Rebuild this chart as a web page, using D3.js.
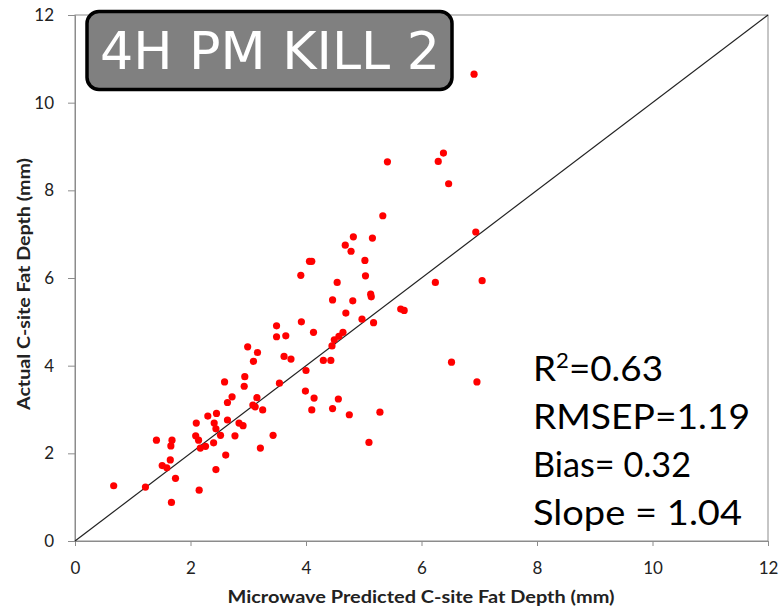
<!DOCTYPE html>
<html>
<head>
  <meta charset="utf-8">
  <script src="https://cdn.jsdelivr.net/npm/d3@7/dist/d3.min.js"></script>
  <style>
    body { margin: 0; background: #fff; }
    svg { display: block; font-family: Lato, "Open Sans", sans-serif; }
  </style>
</head>
<body>
  <svg id="chart" width="782" height="607"></svg>
  <script>
    // predicted (x) vs actual (y) fat depth, mm
    var predicted = [
      3.49,3.65,4.13,2.99,3.16,3.09,3.62,3.74,4.00,2.94,
      2.59,2.93,3.54,3.99,4.14,4.10,2.72,2.64,3.15,3.08,
      3.12,3.25,2.45,2.30,2.10,2.41,2.44,2.64,2.84,2.91,
      2.52,2.77,3.43,2.09,2.14,1.41,1.68,1.66,2.40,2.26,
      2.17,3.21,2.61,1.65,1.51,1.59,1.74,2.44,0.67,1.22,
      2.15,1.67,
      4.06,4.10,3.91,3.92,3.49,
      5.41,6.38,6.29,6.47,5.33,6.94,4.82,5.15,4.68,4.78,
      5.02,5.03,4.54,6.24,7.05,5.12,5.13,4.46,4.81,4.69,
      5.64,5.70,4.97,5.17,4.64,4.57,4.49,4.45,4.30,4.43,
      4.56,4.46,4.75,5.28,5.09,6.52,6.96,6.91
    ];
    var actual = [
      4.66,4.68,4.76,4.43,4.30,4.10,4.21,4.15,3.89,3.75,
      3.63,3.53,3.60,3.42,3.26,2.99,3.29,3.16,3.27,3.10,
      3.06,2.99,2.91,2.85,2.69,2.69,2.56,2.76,2.69,2.63,
      2.41,2.40,2.41,2.40,2.30,2.30,2.30,2.17,2.24,2.16,
      2.12,2.12,1.96,1.85,1.72,1.67,1.43,1.63,1.26,1.23,
      1.16,0.88,
      6.38,6.38,6.06,5.00,4.91,
      8.65,8.85,8.66,8.15,7.42,7.05,6.94,6.91,6.75,6.61,
      6.40,6.05,5.90,5.90,5.94,5.63,5.57,5.50,5.48,5.20,
      5.29,5.26,5.06,4.98,4.76,4.67,4.59,4.45,4.12,4.12,
      3.24,3.02,2.88,2.94,2.25,4.08,3.63,10.65
    ];
    var tickValues = [0, 2, 4, 6, 8, 10, 12];
    var identityLine = [0, 12];
    var statLines = ["RMSEP=1.19", "Bias= 0.32", "Slope = 1.04"];
    var r2Value = "0.63";
    var chartTitle = "4H PM KILL 2";

    var svg = d3.select("#chart");

    var x = d3.scaleLinear().domain([0, 12]).range([75, 768]);
    var y = d3.scaleLinear().domain([0, 12]).range([541, 15]);

    // plot frame
    svg.append("rect")
      .attr("x", x(0)).attr("y", y(12))
      .attr("width", x(12) - x(0)).attr("height", y(0) - y(12))
      .attr("fill", "none").attr("stroke", "#8c8c8c").attr("stroke-width", 1);

    // axes
    var xAxis = svg.append("g")
      .attr("transform", "translate(0," + y(0) + ")")
      .call(d3.axisBottom(x).tickValues(tickValues).tickSize(5).tickPadding(16));
    var yAxis = svg.append("g")
      .attr("transform", "translate(" + x(0) + ",0)")
      .call(d3.axisLeft(y).tickValues(tickValues).tickSize(7).tickPadding(14));
    [xAxis, yAxis].forEach(function(g) {
      g.select(".domain").attr("stroke", "#8c8c8c");
      g.selectAll(".tick line").attr("stroke", "#8c8c8c");
      g.selectAll(".tick text")
        .attr("fill", "#222")
        .style("font-family", "Lato, sans-serif")
        .style("font-size", "17px");
    });

    // y = x reference line
    svg.append("line")
      .attr("x1", x(identityLine[0])).attr("y1", y(identityLine[0]))
      .attr("x2", x(identityLine[1])).attr("y2", y(identityLine[1]))
      .attr("stroke", "#222").attr("stroke-width", 1.2);

    // points
    svg.selectAll("circle.pt")
      .data(predicted.map(function(d, i) { return [d, actual[i]]; }))
      .enter()
      .append("circle")
      .attr("class", "pt")
      .attr("cx", function(d) { return x(d[0]); })
      .attr("cy", function(d) { return y(d[1]); })
      .attr("r", 3.6)
      .attr("fill", "#ff0000");

    // axis titles
    svg.append("text")
      .attr("x", 421).attr("y", 603)
      .attr("text-anchor", "middle")
      .attr("textLength", 387).attr("lengthAdjust", "spacingAndGlyphs")
      .style("font-weight", "bold").style("font-size", "16.5px")
      .attr("fill", "#222")
      .text("Microwave Predicted C-site Fat Depth (mm)");
    svg.append("text")
      .attr("transform", "translate(30,284) rotate(-90)")
      .attr("text-anchor", "middle")
      .attr("textLength", 252).attr("lengthAdjust", "spacingAndGlyphs")
      .style("font-weight", "bold").style("font-size", "16.5px")
      .attr("fill", "#222")
      .text("Actual C-site Fat Depth (mm)");

    // statistics
    var r2 = svg.append("text")
      .attr("x", 533).attr("y", 381)
      .attr("textLength", 130).attr("lengthAdjust", "spacingAndGlyphs")
      .style("font-size", "35px").attr("fill", "#000");
    r2.append("tspan").text("R");
    r2.append("tspan").attr("dy", -13).style("font-size", "21px").text("2");
    r2.append("tspan").attr("dy", 13).text("=" + r2Value);
    var statWidths = [217, 158, 209];
    svg.selectAll("text.stat")
      .data(statLines)
      .enter()
      .append("text")
      .attr("class", "stat")
      .attr("x", 533)
      .attr("y", function(d, i) { return 429 + i * 48; })
      .attr("textLength", function(d, i) { return statWidths[i]; })
      .attr("lengthAdjust", "spacingAndGlyphs")
      .style("font-size", "35px").attr("fill", "#000")
      .text(function(d) { return d; });

    // title badge
    svg.append("rect")
      .attr("x", 87).attr("y", 11.5)
      .attr("width", 365).attr("height", 78)
      .attr("rx", 12).attr("ry", 12)
      .attr("fill", "#808080").attr("stroke", "#000").attr("stroke-width", 3.5);
    svg.append("text")
      .attr("x", 100).attr("y", 69)
      .attr("textLength", 340).attr("lengthAdjust", "spacingAndGlyphs")
      .style("font-family", "\"DejaVu Sans\", sans-serif")
      .style("font-size", "52px")
      .attr("fill", "#fff")
      .text(chartTitle);
  </script>
</body>
</html>
